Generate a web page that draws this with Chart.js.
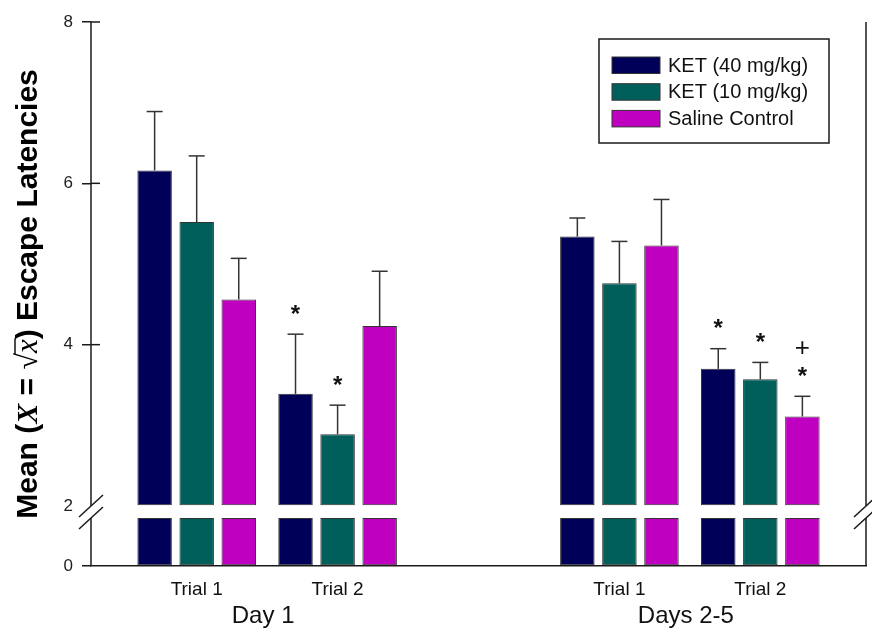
<!DOCTYPE html>
<html><head><meta charset="utf-8">
<script src="https://cdn.jsdelivr.net/npm/chart.js@4.4.1/dist/chart.umd.min.js"></script>
<style>html,body{margin:0;padding:0;background:#fff}#wrap{width:872px;height:629px;position:relative}</style>
</head><body><div id="wrap"><canvas id="c"></canvas></div>
<script>
// ---- data ----
const categories = ['Trial 1', 'Trial 2', 'Trial 1', 'Trial 2'];
const categoryPositions = [0, 1, 3, 4];
const groupLabels = ['Day 1', 'Days 2-5'];
const seriesNames = ['KET (40 mg/kg)', 'KET (10 mg/kg)', 'Saline Control'];
const ket40Means = [6.16, 3.39, 5.34, 3.70];
const ket10Means = [5.52, 2.89, 4.76, 3.57];
const salineMeans = [4.56, 4.23, 5.23, 3.11];
const ket40Errors = [0.73, 0.74, 0.23, 0.25];
const ket10Errors = [0.82, 0.36, 0.52, 0.21];
const salineErrors = [0.51, 0.68, 0.57, 0.25];
const ket40Marks = ['', '*', '', '*'];
const ket10Marks = ['', '*', '', '*'];
const salineMarks = ['', '', '', '*+'];
const yTickValues = [0, 2, 4, 6, 8];
const axisBreak = 2;

// ---- style ----
const SANS = '"Liberation Sans", Arial, sans-serif';
const SERIF = '"Liberation Serif", "Times New Roman", serif';
const INK = '#1a1a1a';
const colors = ['#000058', '#005f5a', '#c000c0'];
const means = [ket40Means, ket10Means, salineMeans];
const errors = [ket40Errors, ket10Errors, salineErrors];
const marks = [ket40Marks, ket10Marks, salineMarks];

const barStyle = (i) => ({
  backgroundColor: colors[i], borderColor: '#333', borderWidth: 1, borderSkipped: false,
  categoryPercentage: 0.8955, barPercentage: 0.82, stack: 's' + i
});
const upperSets = seriesNames.map((name, i) => Object.assign({
  label: name, yAxisID: 'y', base: axisBreak,
  data: categoryPositions.map((x, j) => ({x: x, y: means[i][j]}))
}, barStyle(i)));
const lowerSets = seriesNames.map((name, i) => Object.assign({
  label: name + ' (below break)', yAxisID: 'yLow', base: 0,
  data: categoryPositions.map((x, j) => ({x: x, y: Math.min(means[i][j], axisBreak)}))
}, barStyle(i)));

function line(ctx, x1, y1, x2, y2) { ctx.beginPath(); ctx.moveTo(x1, y1); ctx.lineTo(x2, y2); ctx.stroke(); }

function drawCentered(ctx, text, cx, cy) {
  const m = ctx.measureText(text);
  ctx.textAlign = 'center'; ctx.textBaseline = 'alphabetic';
  ctx.fillText(text, cx, cy + (m.actualBoundingBoxAscent - m.actualBoundingBoxDescent) / 2);
}

const decor = {
  id: 'decor',
  afterDatasetsDraw(chart) {
    const {ctx, chartArea: a, scales} = chart;
    const yU = scales.y, yL = scales.yLow;
    const gapTop = yU.getPixelForValue(axisBreak), gapBot = yL.getPixelForValue(axisBreak);
    ctx.save();
    ctx.strokeStyle = INK; ctx.lineWidth = 1.5;
    [a.left, a.right].forEach(px => {
      line(ctx, px, a.top, px, gapTop);
      line(ctx, px, gapBot, px, a.bottom);
      [gapTop, gapBot].forEach(py => line(ctx, px - 12, py + 11, px + 12, py - 11));
    });
    yU.ticks.forEach(t => {
      if (t.value === axisBreak) return;
      const py = yU.getPixelForValue(t.value);
      line(ctx, a.left, py, a.left + 9, py);
    });
    // error bars + significance marks
    ctx.strokeStyle = '#333'; ctx.lineWidth = 1.5;
    for (let i = 0; i < seriesNames.length; i++) {
      const meta = chart.getDatasetMeta(i);
      meta.data.forEach((bar, j) => {
        const top = yU.getPixelForValue(means[i][j] + errors[i][j]);
        const bottom = yU.getPixelForValue(means[i][j]);
        line(ctx, bar.x, bottom, bar.x, top);
        line(ctx, bar.x - 8, top, bar.x + 8, top);
        const m = marks[i][j];
        ctx.fillStyle = '#111';
        for (let k = 0; k < m.length; k++) {
          const ch = m[k];
          ctx.font = ch === '*' ? 'bold 24px ' + SANS : '26px ' + SANS;
          drawCentered(ctx, ch, bar.x, top - 25 - 24 * k);
        }
      });
    }
    ctx.restore();
  },
  afterDraw(chart) {
    const {ctx, chartArea: a, scales} = chart;
    const xs = scales.x;
    ctx.save();
    // group labels
    ctx.fillStyle = '#111';
    ctx.font = '24px ' + SANS;
    ctx.textAlign = 'center'; ctx.textBaseline = 'middle';
    for (let g = 0; g < groupLabels.length; g++) {
      const p1 = xs.getPixelForValue(categoryPositions[2 * g]);
      const p2 = xs.getPixelForValue(categoryPositions[2 * g + 1]);
      ctx.fillText(groupLabels[g], (p1 + p2) / 2 - 4, 616);
    }
    // legend
    const lx = a.right - 37 - 230, ly = a.top + 17;
    ctx.strokeStyle = INK; ctx.lineWidth = 1.5;
    ctx.fillStyle = '#fff';
    ctx.fillRect(lx, ly, 230, 104);
    ctx.strokeRect(lx, ly, 230, 104);
    ctx.font = '20px ' + SANS; ctx.textAlign = 'left';
    seriesNames.forEach((name, i) => {
      const cy = ly + 26 + i * 26.7;
      ctx.fillStyle = colors[i];
      ctx.fillRect(lx + 13, cy - 8, 48, 16.5);
      ctx.strokeStyle = '#333'; ctx.lineWidth = 1;
      ctx.strokeRect(lx + 13, cy - 8, 48, 16.5);
      ctx.fillStyle = '#111';
      ctx.fillText(name, lx + 69, cy + 1);
    });
    // y title with mixed fonts
    const bold = 'bold 30px ' + SANS;
    const segs = [
      {t: 'Mean (', f: bold},
      {t: 'X', f: 'italic bold 30px ' + SERIF},
      {t: ' = ', f: bold},
      {t: '\u221A', f: '30px ' + SERIF},
      {t: 'x', f: 'italic 31px ' + SERIF, over: true},
      {t: ') Escape Latencies', f: bold}
    ];
    let total = 0;
    segs.forEach(s => { ctx.font = s.f; s.w = ctx.measureText(s.t).width; total += s.w; });
    ctx.translate(37, (a.top + a.bottom) / 2);
    ctx.rotate(-Math.PI / 2);
    ctx.textAlign = 'left'; ctx.textBaseline = 'alphabetic';
    ctx.fillStyle = '#000'; ctx.strokeStyle = '#000';
    let cx = -total / 2;
    segs.forEach(s => {
      ctx.font = s.f;
      ctx.fillText(s.t, cx, 0);
      if (s.over) { ctx.lineWidth = 1.4; line(ctx, cx - 1, -22, cx + s.w + 1, -22); }
      cx += s.w;
    });
    ctx.restore();
  }
};

new Chart(document.getElementById('c'), {
  type: 'bar',
  data: {datasets: upperSets.concat(lowerSets)},
  plugins: [decor],
  options: {
    responsive: true, maintainAspectRatio: false, animation: false,
    layout: {padding: {top: 22, right: 6, left: 0, bottom: 0}},
    plugins: {legend: {display: false}, tooltip: {enabled: false}},
    scales: {
      x: {
        type: 'linear', min: -0.75, max: 4.75, offset: false,
        afterBuildTicks: s => { s.ticks = categoryPositions.map(v => ({value: v})); },
        afterFit: s => { s.height = 63; },
        grid: {display: false, drawTicks: false, offset: false},
        border: {display: true, color: INK, width: 1.5},
        ticks: {
          autoSkip: false, maxRotation: 0, padding: 12, color: '#111',
          font: {family: SANS, size: 19},
          callback: (v, i) => categories[i]
        }
      },
      yLow: {
        type: 'linear', min: 0, max: 2.5, stack: 'v', stackWeight: 60, position: 'left',
        afterBuildTicks: s => { s.ticks = yTickValues.filter(v => v < axisBreak).map(v => ({value: v})); },
        afterFit: s => { s.width = 91; },
        border: {display: false},
        grid: {drawOnChartArea: false, tickLength: 9, lineWidth: 1.5, color: INK},
        ticks: {padding: 9, color: '#222', font: {family: SANS, size: 17}}
      },
      y: {
        type: 'linear', min: axisBreak, max: 8, stack: 'v', stackWeight: 484, position: 'left',
        afterBuildTicks: s => { s.ticks = yTickValues.filter(v => v >= axisBreak).map(v => ({value: v})); },
        afterFit: s => { s.width = 91; },
        border: {display: false},
        grid: {drawOnChartArea: false, tickLength: 9, lineWidth: 1.5,
          color: c => (c.tick && c.tick.value === axisBreak) ? 'rgba(0,0,0,0)' : INK},
        ticks: {padding: 9, color: '#222', font: {family: SANS, size: 17}}
      }
    }
  }
});
</script></body></html>
